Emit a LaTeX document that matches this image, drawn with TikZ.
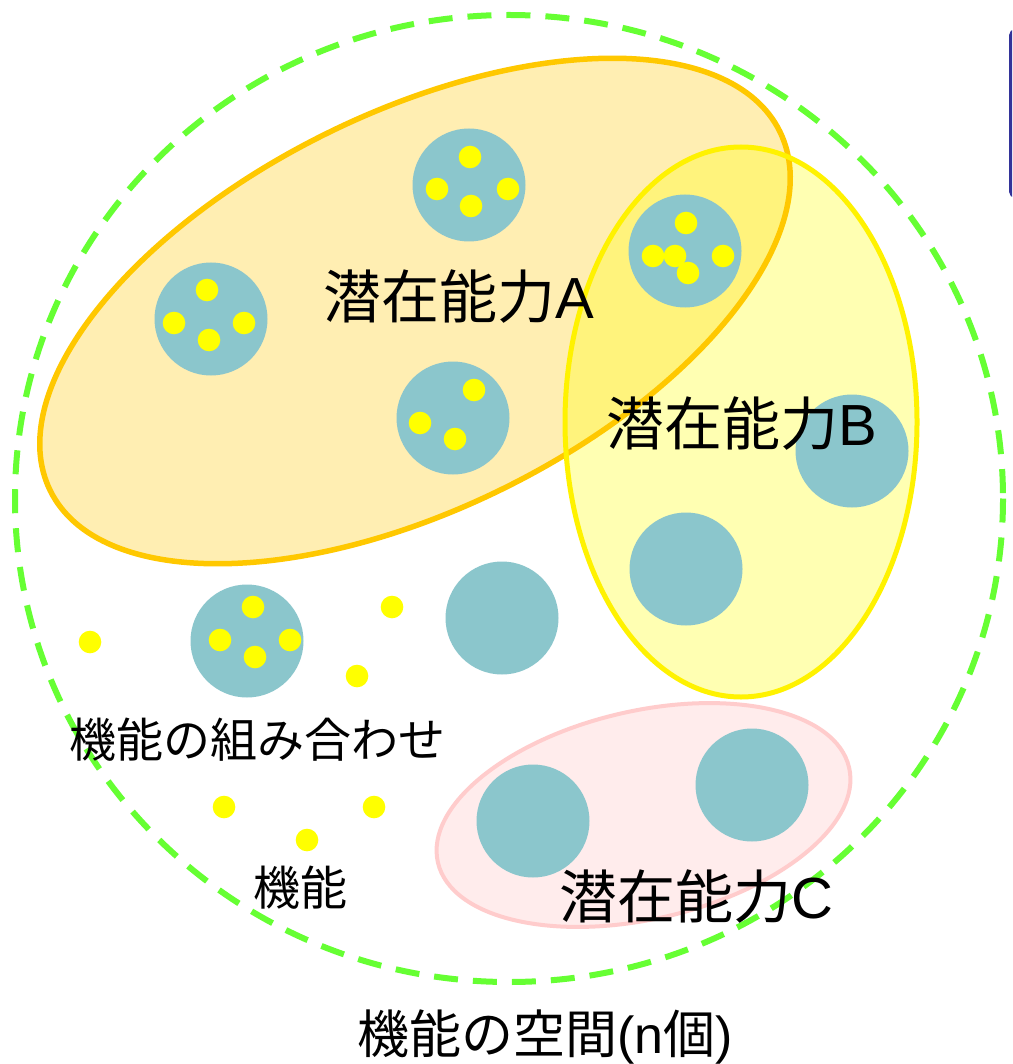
\documentclass[tikz,border=0pt]{standalone}
\usepackage{fontspec}
\setmainfont{Noto Sans CJK JP}
\newfontfamily\latinf{Liberation Sans}
\definecolor{tealc}{RGB}{139,198,204}
\definecolor{dotc}{RGB}{255,255,0}
\definecolor{orangec}{RGB}{255,200,0}
\definecolor{yellowc}{RGB}{255,242,0}
\definecolor{pinkfill}{RGB}{255,236,236}
\definecolor{pinkline}{RGB}{255,204,204}
\definecolor{greenc}{RGB}{102,255,51}
\definecolor{bluec}{RGB}{51,51,153}
\begin{document}
\begin{tikzpicture}[x=1pt,y=-1pt,
  unit/.style={circle, fill=tealc, draw=none, inner sep=0pt, minimum size=113pt},
  fn/.style={circle, fill=dotc, draw=none, inner sep=0pt, minimum size=22.6pt},
  biglbl/.style={inner sep=0pt, font=\fontsize{58}{60}\selectfont},
  midlbl/.style={inner sep=0pt, font=\fontsize{47}{50}\selectfont},
  botlbl/.style={inner sep=0pt, font=\fontsize{52}{56}\selectfont},
  space/.style={draw=greenc, line width=6pt, dash pattern=on 24pt off 15pt},
]
\useasboundingbox (0,0) rectangle (1012,1064);
\fill[white] (0,0) rectangle (1012,1064);
% blue edge (clipped frame)
\begin{scope}
\clip (0,0) rectangle (1012,1064);
\draw[bluec, line width=3pt, rounded corners=5pt] (1010.5,30.5) rectangle (1100,196.5);
\end{scope}
% groups
\path[fill=orangec, fill opacity=0.3, rotate around={26.2:(415,311)}] (415,311) ellipse [x radius=406.6, y radius=198.3];
\path[fill=dotc, fill opacity=0.3] (741,422) ellipse [x radius=176, y radius=275];
\draw[orangec, line width=5.5pt, rotate around={26.2:(415,311)}] (415,311) ellipse [x radius=406.6, y radius=198.3];
\draw[yellowc, line width=5pt] (741,422) ellipse [x radius=176, y radius=275];
\draw[pinkline, fill=pinkfill, line width=4pt, rotate around={13:(643.5,815)}] (643.5,815) ellipse [x radius=211, y radius=104];
% function space
\draw[space] (509,498.5) ellipse [x radius=494, y radius=483.5];
% combinations (teal)
\node[unit] (u1) at (469,185) {};
\node[unit] (u2) at (685,251) {};
\node[unit] (u3) at (211,319) {};
\node[unit] (u4) at (453,418) {};
\node[unit] (u5) at (852,451) {};
\node[unit] (u6) at (686,569) {};
\node[unit] (u7) at (502,618) {};
\node[unit] (u8) at (247,641) {};
\node[unit] (u9) at (533,821) {};
\node[unit] (u10) at (752,785) {};
% functions inside combinations
\node[fn] (d1a) at (470,157) {};
\node[fn] (d1b) at (437,189) {};
\node[fn] (d1c) at (508,189) {};
\node[fn] (d1d) at (471,206) {};
\node[fn] (d2a) at (686,223) {};
\node[fn] (d2b) at (653,256) {};
\node[fn] (d2c) at (675,256) {};
\node[fn] (d2d) at (688,273) {};
\node[fn] (d2e) at (723,256) {};
\node[fn] (d3a) at (207,290) {};
\node[fn] (d3b) at (174,323) {};
\node[fn] (d3c) at (244,323) {};
\node[fn] (d3d) at (209,340) {};
\node[fn] (d4a) at (474,390) {};
\node[fn] (d4b) at (420,423) {};
\node[fn] (d4c) at (455,439) {};
\node[fn] (d8a) at (253,607) {};
\node[fn] (d8b) at (220,640) {};
\node[fn] (d8c) at (290,640) {};
\node[fn] (d8d) at (255,657) {};
% free functions
\node[fn] (f1) at (90,642) {};
\node[fn] (f2) at (392,607) {};
\node[fn] (f3) at (357,676) {};
\node[fn] (f4) at (224,807) {};
\node[fn] (f5) at (374,807) {};
\node[fn] (f6) at (307,840) {};
% labels
\node[biglbl] (la) at (459,297) {潜在能力{\latinf A}};
\node[biglbl] (lb) at (742,424) {潜在能力{\latinf B}};
\node[biglbl] (lc) at (696,897) {潜在能力{\latinf C}};
\node[midlbl] (lcomb) at (257,740) {機能の組み合わせ};
\node[midlbl] (lfn) at (300,888) {機能};
\node[botlbl] (lspace) at (545,1037) {機能の空間{\latinf (n}個{\latinf )}};
\end{tikzpicture}
\end{document}
